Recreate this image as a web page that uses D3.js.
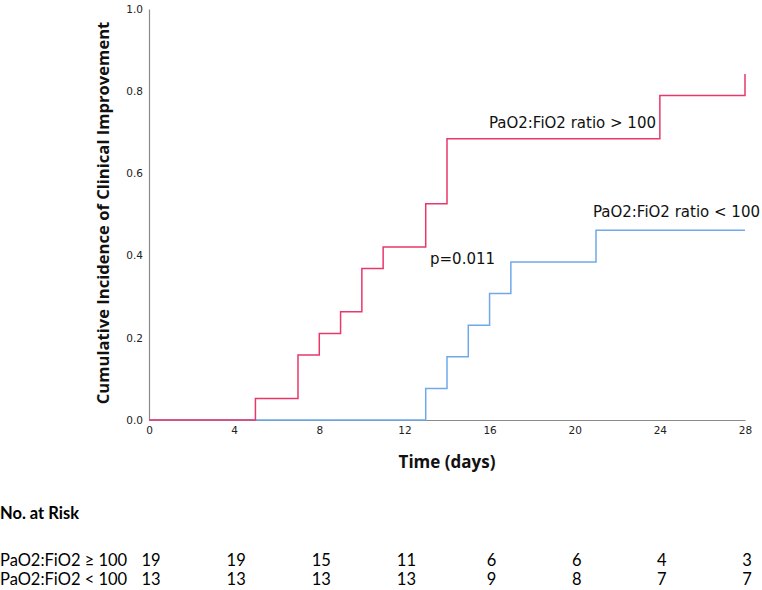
<!DOCTYPE html>
<html>
<head>
<meta charset="utf-8">
<script src="https://cdn.jsdelivr.net/npm/d3@7"></script>
<style>
  html, body { margin: 0; padding: 0; background: #fff; }
  svg { display: block; }
</style>
</head>
<body>
<svg id="chart" width="762" height="590"></svg>
<script>
// ---- data ----
const highTimes  = [0, 5, 7, 8, 9, 10, 11, 13, 14, 24, 28];
const highValues = [0, 0.0526, 0.1579, 0.2105, 0.2632, 0.3684, 0.4211, 0.5263, 0.6842, 0.7895, 0.8421];
const lowTimes   = [0, 13, 14, 15, 16, 17, 21, 28];
const lowValues  = [0, 0.0769, 0.1538, 0.2308, 0.3077, 0.3846, 0.4615, 0.4615];
const xTicks = [0, 4, 8, 12, 16, 20, 24, 28];
const yTicks = [0, 0.2, 0.4, 0.6, 0.8, 1.0];
const riskTimes = [0, 4, 8, 12, 16, 20, 24, 28];
const riskHigh = [19, 19, 15, 11, 6, 6, 4, 3];
const riskLow  = [13, 13, 13, 13, 9, 8, 7, 7];
const riskLabels = ["PaO2:FiO2 \u2265 100", "PaO2:FiO2 < 100"];

const svg = d3.select("#chart");
const x = d3.scaleLinear().domain([0, 28]).range([149, 745]);
const y = d3.scaleLinear().domain([0, 1]).range([420, 9]);

const tickFont = "DejaVu Sans, sans-serif";

// axes
const yAxis = svg.append("g").attr("transform", `translate(${x(0)},0)`)
  .call(d3.axisLeft(y).tickValues(yTicks).tickFormat(d3.format(".1f")).tickSize(0).tickPadding(6));
const xAxis = svg.append("g").attr("transform", `translate(0,${y(0)})`)
  .call(d3.axisBottom(x).tickValues(xTicks).tickFormat(d3.format("d")).tickSize(0).tickPadding(7));
[xAxis, yAxis].forEach(g => {
  g.select(".domain").attr("stroke", "#8a8a8a").attr("stroke-width", 1.2);
  g.selectAll("text").attr("font-family", tickFont).attr("font-size", 10.5).attr("fill", "#222");
});

// step curves
const line = d3.line().x(d => x(d[0])).y(d => y(d[1])).curve(d3.curveStepAfter);
const lowData = lowTimes.map((t, i) => [t, lowValues[i]]);
const highData = highTimes.map((t, i) => [t, highValues[i]]);
svg.append("path").datum(lowData).attr("d", line)
  .attr("fill", "none").attr("stroke", "#6fa9ea").attr("stroke-width", 1.5);
// high curve: last point is a vertical jump at day 28
const highPath = d3.path();
highData.forEach((d, i) => {
  if (i === 0) highPath.moveTo(x(d[0]), y(d[1]));
  else {
    highPath.lineTo(x(d[0]), y(highData[i - 1][1]));
    highPath.lineTo(x(d[0]), y(d[1]));
  }
});
svg.append("path").attr("d", highPath.toString())
  .attr("fill", "none").attr("stroke", "#e8386a").attr("stroke-width", 1.5);

// annotations
const annFont = "DejaVu Sans, sans-serif";
svg.append("text").attr("x", 656).attr("y", 128).attr("text-anchor", "end")
  .attr("font-family", annFont).attr("font-size", 15).attr("fill", "#111")
  .text("PaO2:FiO2 ratio > 100");
svg.append("text").attr("x", 760).attr("y", 217).attr("text-anchor", "end")
  .attr("font-family", annFont).attr("font-size", 15).attr("fill", "#111")
  .text("PaO2:FiO2 ratio < 100");
svg.append("text").attr("x", 430).attr("y", 264)
  .attr("font-family", annFont).attr("font-size", 15).attr("fill", "#111")
  .text("p=0.011");

// axis titles
const titleFont = "Open Sans, sans-serif";
svg.append("text").attr("transform", `translate(109,213) rotate(-90)`)
  .attr("text-anchor", "middle").attr("font-family", titleFont).attr("font-weight", "bold")
  .attr("font-size", 16.6).attr("fill", "#111")
  .text("Cumulative Incidence of Clinical Improvement");
svg.append("text").attr("x", 447).attr("y", 468).attr("text-anchor", "middle")
  .attr("font-family", titleFont).attr("font-weight", "bold")
  .attr("font-size", 17).attr("fill", "#111").text("Time (days)");

// risk table
const tblFont = "Lato, sans-serif";
svg.append("text").attr("x", 0).attr("y", 519).attr("font-family", tblFont)
  .attr("font-weight", "bold").attr("font-size", 16.5).attr("fill", "#000").text("No. at Risk");
[riskHigh, riskLow].forEach((row, r) => {
  const yy = 566 + r * 19;
  svg.append("text").attr("x", 0).attr("y", yy).attr("font-family", tblFont)
    .attr("font-size", 16.5).attr("fill", "#000").text(riskLabels[r]);
  svg.selectAll(null).data(row).enter().append("text")
    .attr("x", (d, i) => x(riskTimes[i]) + 2).attr("y", yy).attr("text-anchor", "middle")
    .attr("font-family", tblFont).attr("font-size", 16.5).attr("fill", "#000")
    .text(d => d);
});
</script>
</body>
</html>
